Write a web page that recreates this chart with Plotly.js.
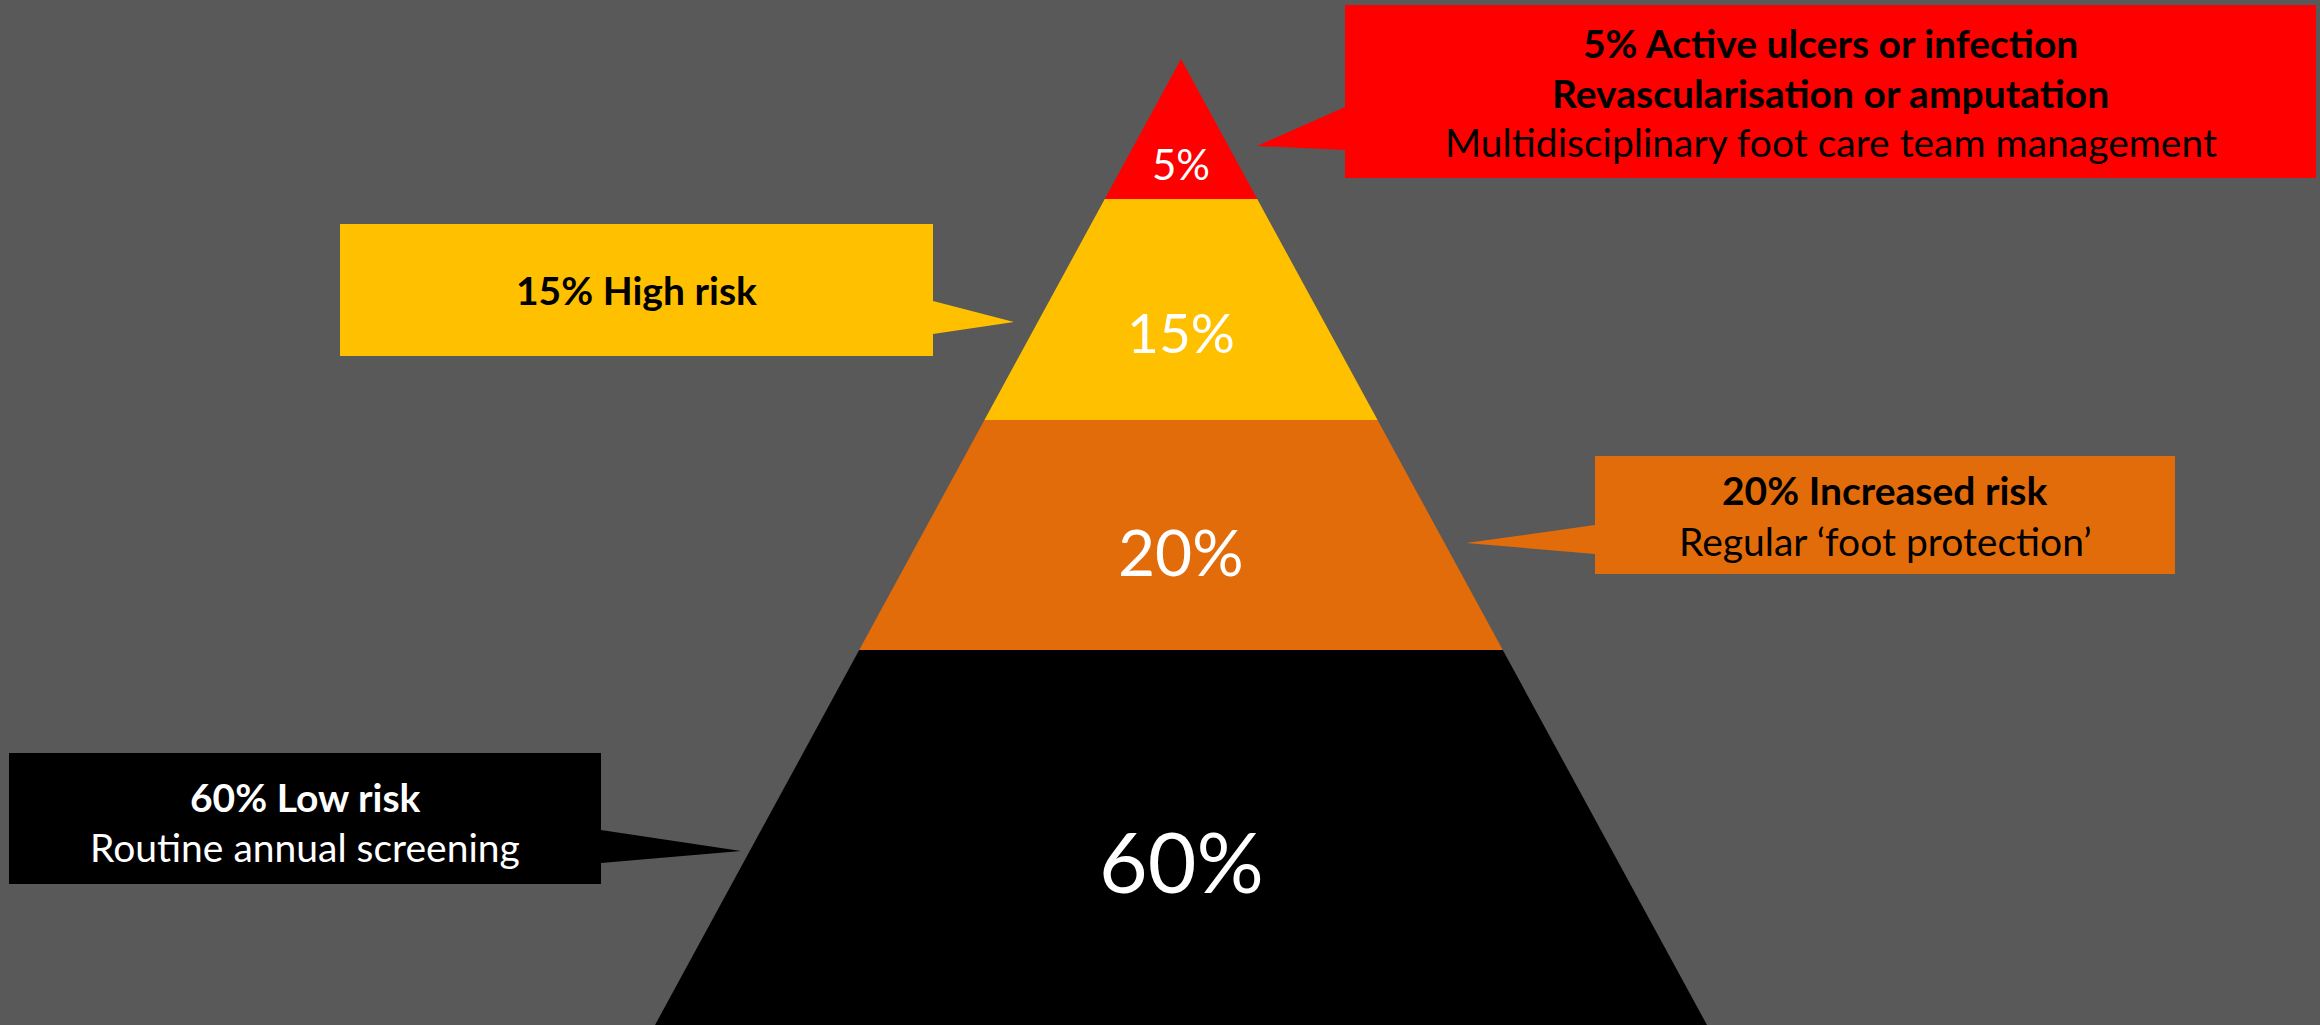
<!DOCTYPE html>
<html><head><meta charset="utf-8">
<script src="https://cdn.plot.ly/plotly-3.0.1.min.js"></script>
<style>html,body{margin:0;padding:0;background:#595959;overflow:hidden}</style>
</head><body><div id="chart" style="width:2320px;height:1025px"></div>
<script>
// ---- data ----
const tierNames = ['Active ulcers or infection', 'High risk', 'Increased risk', 'Low risk'];
const tierPercents = [5, 15, 20, 60];
const calloutBold = [
  ['5% Active ulcers or infection', 'Revascularisation or amputation'],
  ['15% High risk'],
  ['20% Increased risk'],
  ['60% Low risk']
];
const calloutPlain = [
  'Multidisciplinary foot care team management',
  '',
  'Regular \u2018foot protection\u2019',
  'Routine annual screening'
];

// ---- styles / layout geometry ----
const tierColors = ['#FF0000', '#FFC000', '#E36C0A', '#000000'];
const calloutTextColors = ['#000000', '#000000', '#000000', '#FFFFFF'];
const FONT = 'Lato, "Open Sans", sans-serif';
const W = 2320, H = 1025;
const apexX = 1181, apexY = 59, halfSlope = 0.5445;
const bandEdges = [59, 199, 420, 650, 1025];
const pctFontSizes = [42, 55, 64, 84];
const pctLabelY = [164, 332, 551, 860];
const boxes = [
  {x0:1345, x1:2316, y0:5,   y1:178, side:'left',  tip:[1257,146], base:[107,150], lines:[43,93,142]},
  {x0:340,  x1:933,  y0:224, y1:356, side:'right', tip:[1014,322], base:[301,334], lines:[290]},
  {x0:1595, x1:2175, y0:456, y1:574, side:'left',  tip:[1466,543], base:[525,554], lines:[490,541]},
  {x0:9,    x1:601,  y0:753, y1:884, side:'right', tip:[741,851],  base:[830,863], lines:[797,847]}
];
const calloutFontSize = 39;

const traces = [];
const annotations = [];

// pyramid bands
tierPercents.forEach((p, i) => {
  const top = bandEdges[i], bot = bandEdges[i+1];
  const hwT = (top - apexY) * halfSlope, hwB = (bot - apexY) * halfSlope;
  traces.push({
    type:'scatter', mode:'lines', fill:'toself', fillcolor: tierColors[i],
    line:{width:0, color: tierColors[i]}, hoverinfo:'skip', name: tierNames[i],
    x:[apexX-hwT, apexX+hwT, apexX+hwB, apexX-hwB, apexX-hwT],
    y:[top, top, bot, bot, top]
  });
  annotations.push({
    x: apexX, y: pctLabelY[i], xref:'x', yref:'y', showarrow:false,
    xanchor:'center', yanchor:'middle',
    text: p + '%', font:{family:FONT, size:pctFontSizes[i], color:'#FFFFFF'}
  });
});

// callouts
boxes.forEach((b, i) => {
  let xs, ys;
  if (b.side === 'left') {
    xs = [b.x0, b.x1, b.x1, b.x0, b.x0, b.tip[0], b.x0, b.x0];
    ys = [b.y0, b.y0, b.y1, b.y1, b.base[1], b.tip[1], b.base[0], b.y0];
  } else {
    xs = [b.x0, b.x1, b.x1, b.tip[0], b.x1, b.x1, b.x0, b.x0];
    ys = [b.y0, b.y0, b.base[0], b.tip[1], b.base[1], b.y1, b.y1, b.y0];
  }
  traces.push({
    type:'scatter', mode:'lines', fill:'toself', fillcolor: tierColors[i],
    line:{width:0, color: tierColors[i]}, hoverinfo:'skip', name: tierNames[i] + ' callout',
    x: xs, y: ys
  });
  const texts = calloutBold[i].map(t => '<b>' + t + '</b>');
  if (calloutPlain[i]) texts.push(calloutPlain[i]);
  texts.forEach((t, k) => {
    annotations.push({
      x: (b.x0 + b.x1) / 2, y: b.lines[k], xref:'x', yref:'y', showarrow:false,
      xanchor:'center', yanchor:'middle', text: t,
      font:{family:FONT, size:calloutFontSize, color: calloutTextColors[i]}
    });
  });
});

const layout = {
  width: W, height: H,
  margin:{l:0, r:0, t:0, b:0, pad:0},
  paper_bgcolor:'#595959', plot_bgcolor:'#595959',
  showlegend:false,
  xaxis:{range:[0, W], visible:false, fixedrange:true},
  yaxis:{range:[H, 0], visible:false, fixedrange:true},
  annotations: annotations
};
Plotly.newPlot('chart', traces, layout, {staticPlot:true, displayModeBar:false});
</script>
</body></html>
